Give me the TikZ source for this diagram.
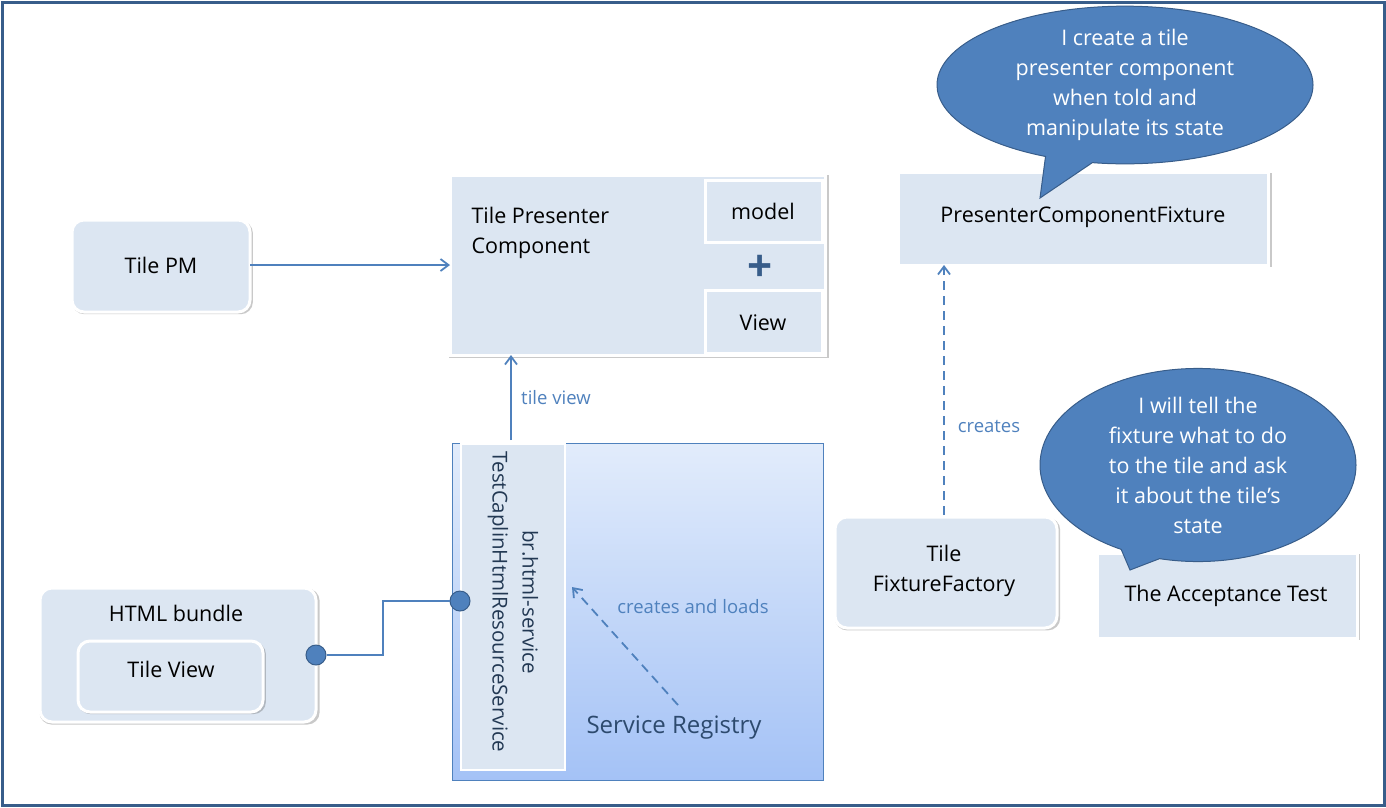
\documentclass[tikz,border=0pt]{standalone}
\usepackage{fontspec}
\setmainfont{Open Sans}
\usetikzlibrary{shadows,arrows.meta,shapes.callouts}
\definecolor{boxf}{HTML}{DCE6F2}
\definecolor{bl}{HTML}{4F81BD}
\definecolor{dk}{HTML}{385D8A}
\definecolor{gtop}{HTML}{E2ECFB}
\definecolor{gbot}{HTML}{A4C2F6}
\begin{document}
\begin{tikzpicture}[x=1pt,y=-1pt,
  font=\fontsize{21.5}{30}\selectfont,
  box/.style={fill=boxf,draw=white,line width=3pt,general shadow={shadow xshift=1.5pt,shadow yshift=-1.5pt,shadow scale=1.015,opacity=0.3,fill=black!70}},
  rbox/.style={box,rounded corners=12pt},
  arr/.style={draw=bl,line width=1.8pt,-{Straight Barb[length=8pt,width=12pt]}},
  lbl/.style={text=bl,font=\fontsize{18.5}{22}\selectfont},
  bubble/.style={ellipse callout,fill=bl,draw=dk,line width=1pt,text=white,align=center,inner sep=0pt}]
\useasboundingbox (0,0) rectangle (1386,807);
\draw[dk,line width=3pt] (2,2) rectangle (1384,805);
% Tile PM
\path[rbox] (72,220) rectangle (250,312);
\node (pm) at (161,265) {Tile PM};
\coordinate (pmr) at (250,265);
% presenter component
\path[box] (450,175) rectangle (825,355);
\node[anchor=west,align=left] (tpc) at (468,233) {Tile Presenter\\Component};
\coordinate (tpcl) at (450,265);
\coordinate (tpcb) at (511,355);
\path[box] (705,180) rectangle (822,242);
\node (model) at (763,211) {model};
\node[text=dk,font=\fontsize{44}{44}\selectfont\bfseries] (plus) at (760,268) {+};
\path[box] (705,290) rectangle (822,353);
\node (view) at (763,323) {View};
\draw[arr] (pmr) -- (tpcl);
% fixture
\path[box] (898,172) rectangle (1268,265);
\node (pcf) at (1083,217) {PresenterComponentFixture};
\coordinate (pcfb) at (944,265);
\node[bubble,minimum width=376pt,minimum height=142pt,callout absolute pointer={(1040,198)}] (b1) at (1125,85) {I create a tile\\presenter component\\when told and\\manipulate its state};
% service registry
\shade[top color=gtop,bottom color=gbot] (452,443) rectangle (823,780);
\draw[bl,line width=1pt] (452,443) rectangle (823,780);
\path[fill=boxf,draw=white,line width=2pt] (461,444) rectangle (565,770);
\node[rotate=-90,align=center,text=dk!60!black,font=\fontsize{20.5}{30}\selectfont] (svc) at (513,602) {br.html-service\\TestCaplinHtmlResourceService};
\node[font=\fontsize{24}{26}\selectfont,text=dk!80!black] (sr) at (674,728) {Service Registry};
\coordinate (svct) at (511,440);
\draw[arr] (svct) -- (tpcb) node[lbl,midway,right=6pt] {tile view};
\coordinate (cl1) at (678,705);
\coordinate (cl2) at (572,587);
\draw[arr,dashed,dash pattern=on 9pt off 6pt] (cl1) -- (cl2);
\node[lbl] (cal) at (693,607) {creates and loads};
% HTML bundle
\path[rbox] (40,588) rectangle (316,722);
\node (hb) at (176,613) {HTML bundle};
\path[rbox] (78,641) rectangle (263,712);
\node (tv) at (171,669) {Tile View};
\node[circle,fill=bl,draw=dk,line width=1pt,minimum size=20pt,inner sep=0pt] (c1) at (316,655) {};
\node[circle,fill=bl,draw=dk,line width=1pt,minimum size=20pt,inner sep=0pt] (c2) at (460,601) {};
\draw[bl,line width=2pt] (c1) -- (383,655) -- (383,601) -- (c2);
% fixture factory
\path[rbox] (835,517) rectangle (1057,628);
\node[align=center] (ff) at (944,571) {Tile\\FixtureFactory};
\coordinate (fft) at (944,515);
\draw[arr,dashed,dash pattern=on 9pt off 6pt] (fft) -- (pcfb);
\node[lbl] (cr) at (989,426) {creates};
% acceptance test
\path[box] (1097,553) rectangle (1357,638);
\node (at) at (1226,596) {The Acceptance Test};
\node[bubble,minimum width=316pt,minimum height=136pt,callout absolute pointer={(1130,570)}] (b2) at (1198,465) {I will tell the\\fixture what to do\\to the tile and ask\\it about the tile’s\\state};
\end{tikzpicture}
\end{document}
